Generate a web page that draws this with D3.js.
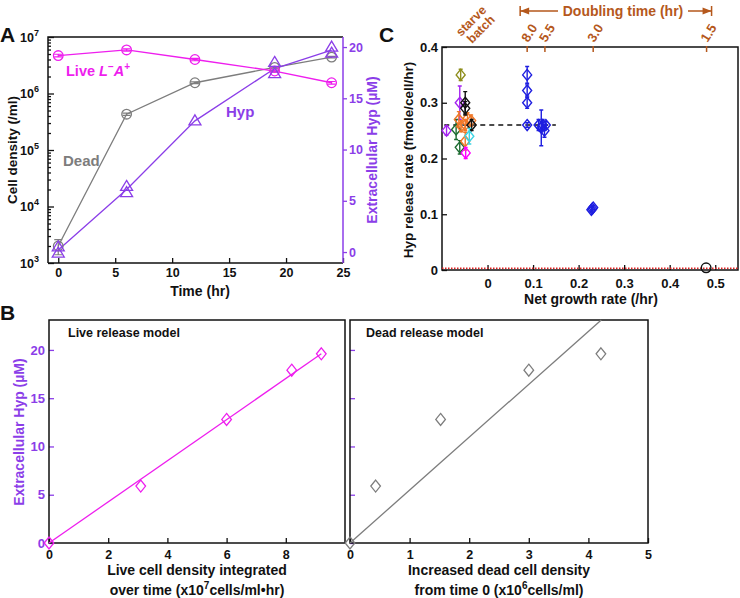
<!DOCTYPE html>
<html><head><meta charset="utf-8">
<script src="https://cdn.jsdelivr.net/npm/d3@7"></script>
<style>
body{margin:0;background:#fff}
svg{font-family:"Liberation Sans",Arial,Helvetica,sans-serif;font-weight:bold}
</style>
</head><body>
<svg id="chart" width="740" height="598"></svg>
<script>
// ---------------- DATA ----------------
// Panel A
const timeHr = [0, 6, 12, 19, 24];
const timeTicks = [0, 5, 10, 15, 20, 25];
const liveDensity = [4.7e6, 5.9e6, 4.0e6, 2.5e6, 1.55e6];
const liveErr = [0.25e6, 0.3e6, 0.2e6, 0.12e6, 0.08e6];
const deadDensity = [2.0e3, 4.3e5, 1.55e6, 2.9e6, 4.4e6];
const deadErr = [0.6e3, 0.2e5, 0.06e6, 0.1e6, 0.15e6];
const hypMean = [0.2, 6.1, 12.8, 17.9, 19.7];
const hypRepTime = [0, 0, 6, 6, 12, 19, 19, 24, 24];
const hypRepValue = [0.5, -0.1, 6.4, 5.8, 12.8, 18.5, 17.4, 20.0, 19.4];
const cellTicks = [1e3, 1e4, 1e5, 1e6, 1e7];
const hypTicks = [0, 5, 10, 15, 20];

// Panel B
const liveIntegrated = [0, 3.1, 6.0, 8.2, 9.2];
const deadIncrease = [0, 0.43, 1.52, 3.0, 4.21];
const hypB = [0, 5.9, 12.8, 17.9, 19.6];
const liveFitSlope = 2.13, liveFitEnd = 9.2;
const deadFitSlope = 5.48;
const liveTicks = [0, 2, 4, 6, 8];
const deadTicks = [0, 1, 2, 3, 4, 5];

// Panel C
const cGroup   = ["blue","blue","blue","blue","blue","blue","blue","blue","blue","blue","blue","blue",
                  "violet","green","olive","violet","green","orange","orange","orange","orange","orange","orange",
                  "black","black","black","cyan","magenta"];
const cGrowth  = [0.087,0.087,0.087,0.087,0.112,0.121,0.125,0.118,0.128,0.230,0.232,0.228,
                  -0.090,-0.069,-0.059,-0.061,-0.061,-0.063,-0.044,-0.036,-0.049,-0.049,-0.058,
                  -0.049,-0.049,-0.035,-0.040,-0.048];
const cRelease = [0.350,0.322,0.300,0.260,0.260,0.260,0.250,0.255,0.260,0.110,0.112,0.108,
                  0.250,0.252,0.350,0.300,0.220,0.270,0.272,0.268,0.260,0.231,0.258,
                  0.300,0.290,0.260,0.240,0.210];
const cError   = [0.015,0.010,0.010,0.004,0.010,0.010,0.012,0.032,0.006,0.004,0.004,0.004,
                  0.008,0.018,0.010,0.030,0.012,0.014,0.010,0.010,0.010,0.016,0.010,
                  0.020,0.012,0.010,0.014,0.010];
const meanRelease = 0.26, meanRange = [-0.095, 0.15];
const zeroGrowth = 0.48, zeroRelease = 0.004;
const growthTicks = [0, 0.1, 0.2, 0.3, 0.4, 0.5];
const releaseTicks = [0, 0.1, 0.2, 0.3, 0.4];
const doublingLabels = ["8.0", "5.5", "3.0", "1.5"];
const doublingGrowth = [0.087, 0.126, 0.232, 0.481];

// ---------------- STYLE ----------------
const MAG = "#ee1eee", PUR = "#8b3ee8", GRAY = "#7d7d7d", BROWN = "#b5581c";
const groupColor = {blue:"#1f1fe0", violet:"#a424f0", green:"#1c6b30", olive:"#8e8e1c",
  orange:"#f07828", black:"#111", cyan:"#3cd4e4", magenta:"#ff00ff"};

const svg = d3.select("#chart");

function styleAxis(g, tickColor, textColor, fs) {
  g.attr("font-family", null).attr("font-size", null);
  g.select(".domain").remove();
  g.selectAll(".tick line").attr("stroke", tickColor).attr("stroke-width", 1.3);
  g.selectAll(".tick text").attr("fill", textColor).attr("font-size", fs).attr("font-weight", "bold");
}
function label(g, x, y, str, opts = {}) {
  const t = g.append("text").attr("x", x).attr("y", y).text(str)
    .attr("font-size", opts.fs || 14).attr("fill", opts.fill || "#111")
    .attr("text-anchor", opts.anchor || "start");
  if (opts.rotate) t.attr("transform", `rotate(${opts.rotate},${x},${y})`);
  return t;
}

// ================= PANEL A =================
const A = {l:48, r:343, t:37, b:263};
const xA = d3.scaleLinear().domain([-0.9, 25]).range([A.l, A.r]);
const yA = d3.scaleLog().domain([1e3, 1e7]).range([A.b, A.t]);
const yH = d3.scaleLinear().domain([-1.07, 20.98]).range([A.b, A.t]);
const gA = svg.append("g");

gA.append("g").attr("transform", `translate(0,${A.b})`)
  .call(d3.axisBottom(xA).tickValues(timeTicks).tickSizeInner(-5).tickSizeOuter(0).tickPadding(5))
  .call(g => styleAxis(g, "#111", "#111", 12.5));

const minor = [];
for (let e = 3; e < 7; e++) for (let k = 2; k <= 9; k++) minor.push(k * Math.pow(10, e));
gA.append("g").attr("transform", `translate(${A.l},0)`)
  .call(d3.axisLeft(yA).tickValues(minor).tickSizeInner(-3).tickSizeOuter(0).tickFormat(""))
  .call(g => styleAxis(g, "#111", "#111", 12));
const gyA = gA.append("g").attr("transform", `translate(${A.l},0)`)
  .call(d3.axisLeft(yA).tickValues(cellTicks).tickSizeInner(-6).tickSizeOuter(0).tickPadding(9).tickFormat(""))
  .call(g => styleAxis(g, "#111", "#111", 12.5));
gyA.selectAll(".tick text").each(function(d) {
  const t = d3.select(this);
  t.append("tspan").text("10");
  t.append("tspan").attr("dy", -6).attr("font-size", 9).text(Math.round(Math.log10(d)));
});
gA.append("g").attr("transform", `translate(${A.r},0)`)
  .call(d3.axisRight(yH).tickValues(hypTicks).tickSizeInner(4).tickSizeOuter(0).tickPadding(2))
  .call(g => styleAxis(g, PUR, PUR, 12.5));

gA.append("path").attr("d", `M${A.l},${A.b}V${A.t}H${A.r}M${A.l},${A.b}H${A.r}`)
  .attr("fill", "none").attr("stroke", "#111").attr("stroke-width", 1.5);
gA.append("line").attr("x1", A.r).attr("x2", A.r).attr("y1", A.t).attr("y2", A.b)
  .attr("stroke", PUR).attr("stroke-width", 1.5);

const lineA = (ys, yScale) => d3.line().x((d, i) => xA(timeHr[i])).y(d => yScale(d))(ys);
gA.append("path").attr("d", lineA(deadDensity, yA)).attr("fill", "none").attr("stroke", GRAY).attr("stroke-width", 1.3);
gA.append("path").attr("d", lineA(liveDensity, yA)).attr("fill", "none").attr("stroke", MAG).attr("stroke-width", 1.3);
gA.append("path").attr("d", lineA(hypMean, yH)).attr("fill", "none").attr("stroke", PUR).attr("stroke-width", 1.3);

function circlesWithErr(vals, errs, color) {
  vals.forEach((v, i) => {
    const x = xA(timeHr[i]);
    const y0 = yA(v - errs[i]), y1 = yA(v + errs[i]);
    gA.append("path").attr("d", `M${x},${y0}V${y1}M${x-4},${y0}H${x+4}M${x-4},${y1}H${x+4}`)
      .attr("stroke", color).attr("stroke-width", 1.2).attr("fill", "none");
    gA.append("circle").attr("cx", x).attr("cy", yA(v)).attr("r", 4.8)
      .attr("fill", "none").attr("stroke", color).attr("stroke-width", 1.3);
  });
}
circlesWithErr(deadDensity, deadErr, GRAY);
circlesWithErr(liveDensity, liveErr, MAG);
hypRepTime.forEach((t, i) => {
  const x = xA(t), y = yH(hypRepValue[i]);
  gA.append("path").attr("d", `M${x},${y-6}L${x+6},${y+4}L${x-6},${y+4}Z`)
    .attr("fill", "none").attr("stroke", PUR).attr("stroke-width", 1.3);
});

const lt = gA.append("text").attr("x", 66).attr("y", 76).attr("fill", MAG).attr("font-size", 14.5);
lt.append("tspan").text("Live ");
lt.append("tspan").attr("font-style", "italic").text("L");
lt.append("tspan").attr("dy", -6).attr("font-size", 10).text("−");
lt.append("tspan").attr("dy", 6).attr("font-style", "italic").text("A");
lt.append("tspan").attr("dy", -6).attr("font-size", 10).text("+");
label(gA, 63, 166, "Dead", {fill: GRAY, fs: 15});
label(gA, 226, 117, "Hyp", {fill: PUR, fs: 15});
label(gA, 200, 296, "Time (hr)", {anchor: "middle", fs: 14});
label(gA, 17, 150, "Cell density (/ml)", {anchor: "middle", fs: 13.5, rotate: -90});
label(gA, 377, 150, "Extracellular Hyp (µM)", {anchor: "middle", fs: 14, rotate: -90, fill: PUR});
label(gA, 0, 42, "A", {fs: 21});

// ================= PANEL B =================
const yB = d3.scaleLinear().domain([0, 23.1]).range([543, 320]);
const B1 = {l:49, r:345, t:320, b:543};
const B2 = {l:350, r:648, t:320, b:543};
const xB1 = d3.scaleLinear().domain([0, 10]).range([B1.l, B1.r]);
const xB2 = d3.scaleLinear().domain([0, 5]).range([B2.l, B2.r]);
const gB = svg.append("g");

function panelB(box, xs, ticks, xVals, color, slope, fitEnd, showY) {
  gB.append("g").attr("transform", `translate(0,${box.b})`)
    .call(d3.axisBottom(xs).tickValues(ticks).tickSizeInner(-5).tickSizeOuter(0).tickPadding(7)
      .tickFormat(d3.format("d")))
    .call(g => styleAxis(g, "#111", "#111", 12.5));
  const ay = d3.axisLeft(yB).tickValues(hypTicks).tickSizeInner(-5).tickSizeOuter(0).tickPadding(4);
  if (!showY) ay.tickFormat("");
  gB.append("g").attr("transform", `translate(${box.l},0)`).call(ay)
    .call(g => styleAxis(g, PUR, PUR, 13));
  gB.append("rect").attr("x", box.l).attr("y", box.t).attr("width", box.r - box.l).attr("height", box.b - box.t)
    .attr("fill", "none").attr("stroke", "#111").attr("stroke-width", 1.5);
  gB.append("line").attr("x1", xs(0)).attr("y1", yB(0)).attr("x2", xs(fitEnd)).attr("y2", yB(slope * fitEnd))
    .attr("stroke", color).attr("stroke-width", 1.3);
  xVals.forEach((v, i) => {
    const x = xs(v), y = yB(hypB[i]);
    gB.append("path").attr("d", `M${x},${y-6}L${x+4.8},${y}L${x},${y+6}L${x-4.8},${y}Z`)
      .attr("fill", "none").attr("stroke", color).attr("stroke-width", 1.3);
  });
}
panelB(B1, xB1, liveTicks, liveIntegrated, MAG, liveFitSlope, liveFitEnd, true);
panelB(B2, xB2, deadTicks, deadIncrease, GRAY, deadFitSlope, 23.1 / deadFitSlope, false);

label(gB, 68, 337, "Live release model", {fs: 12.5});
label(gB, 366, 337, "Dead release model", {fs: 12.5});
label(gB, 197, 575, "Live cell density integrated", {anchor: "middle", fs: 14});
const bl = label(gB, 197, 595, "", {anchor: "middle", fs: 14});
bl.append("tspan").text("over time (x10");
bl.append("tspan").attr("dy", -6).attr("font-size", 10).text("7");
bl.append("tspan").attr("dy", 6).text("cells/ml•hr)");
label(gB, 499, 575, "Increased dead cell density", {anchor: "middle", fs: 14});
const br = label(gB, 499, 595, "", {anchor: "middle", fs: 14});
br.append("tspan").text("from time 0 (x10");
br.append("tspan").attr("dy", -6).attr("font-size", 10).text("6");
br.append("tspan").attr("dy", 6).text("cells/ml)");
label(gB, 24, 432, "Extracellular Hyp (µM)", {anchor: "middle", fs: 14, rotate: -90, fill: PUR});
label(gB, 0, 320, "B", {fs: 21});

// ================= PANEL C =================
const C = {l:442, r:738, t:47, b:270};
const xC = d3.scaleLinear().domain([-0.1, 0.55]).range([C.l, C.r]);
const yC = d3.scaleLinear().domain([0, 0.4]).range([C.b, C.t]);
const gC = svg.append("g");

gC.append("g").attr("transform", `translate(0,${C.b})`)
  .call(d3.axisBottom(xC).tickValues(growthTicks).tickSizeInner(-5).tickSizeOuter(0).tickPadding(9)
    .tickFormat(d => d === 0 ? "0" : d3.format(".1f")(d)))
  .call(g => styleAxis(g, "#111", "#111", 13));
gC.append("g").attr("transform", `translate(${C.l},0)`)
  .call(d3.axisLeft(yC).tickValues(releaseTicks).tickSizeInner(-5).tickSizeOuter(0).tickPadding(4)
    .tickFormat(d => d === 0 ? "0" : d3.format(".1f")(d)))
  .call(g => styleAxis(g, "#111", "#111", 13));
gC.append("rect").attr("x", C.l).attr("y", C.t).attr("width", C.r - C.l).attr("height", C.b - C.t)
  .attr("fill", "none").attr("stroke", "#111").attr("stroke-width", 1.5);

// top doubling-time axis
doublingGrowth.forEach((g, i) => {
  const x = xC(g);
  gC.append("line").attr("x1", x).attr("x2", x).attr("y1", C.t - 1).attr("y2", C.t + 5)
    .attr("stroke", BROWN).attr("stroke-width", 1.5);
  gC.append("text").attr("x", x + 1).attr("y", 43).attr("fill", BROWN).attr("font-size", 13)
    .attr("transform", `rotate(-58,${x + 1},43)`).text(doublingLabels[i]);
});
gC.append("text").attr("x", 461).attr("y", 37).attr("fill", BROWN).attr("font-size", 12.5)
  .attr("transform", "rotate(-45,461,37)").text("starve");
gC.append("text").attr("x", 472).attr("y", 44).attr("fill", BROWN).attr("font-size", 12.5)
  .attr("transform", "rotate(-45,472,44)").text("batch");
const bx0 = xC(doublingGrowth[0]) - 7, bx1 = xC(doublingGrowth[3]) + 5, by = 11;
gC.append("text").attr("x", 623).attr("y", 16).attr("text-anchor", "middle").attr("fill", BROWN)
  .attr("font-size", 14).text("Doubling time (hr)");
gC.append("path").attr("d", `M${bx0},${by-5}V${by+5}M${bx0},${by}H558M688,${by}H${bx1}M${bx1},${by-5}V${by+5}`)
  .attr("stroke", BROWN).attr("stroke-width", 1.5).attr("fill", "none");
gC.append("path").attr("d", `M${bx0},${by}l9,-3.5v7Z M${bx1},${by}l-9,-3.5v7Z`).attr("fill", BROWN);

// reference lines
gC.append("line").attr("x1", C.l).attr("x2", C.r).attr("y1", yC(0.003)).attr("y2", yC(0.003))
  .attr("stroke", "#e02020").attr("stroke-width", 1.5).attr("stroke-dasharray", "1.5,1.5");
gC.append("line").attr("x1", xC(meanRange[0])).attr("x2", xC(meanRange[1]))
  .attr("y1", yC(meanRelease)).attr("y2", yC(meanRelease))
  .attr("stroke", "#111").attr("stroke-width", 1.6).attr("stroke-dasharray", "5,4");

cGrowth.forEach((g, i) => {
  const x = xC(g), y = yC(cRelease[i]), col = groupColor[cGroup[i]];
  const y0 = yC(cRelease[i] - cError[i]), y1 = yC(cRelease[i] + cError[i]);
  gC.append("path").attr("d", `M${x},${y0}V${y1}M${x-2},${y0}H${x+2}M${x-2},${y1}H${x+2}`)
    .attr("stroke", col).attr("stroke-width", 1.4).attr("fill", "none");
  gC.append("path").attr("d", `M${x},${y-5.5}L${x+4.5},${y}L${x},${y+5.5}L${x-4.5},${y}Z`)
    .attr("fill", "none").attr("stroke", col).attr("stroke-width", 1.4);
});
gC.append("circle").attr("cx", xC(zeroGrowth)).attr("cy", yC(zeroRelease)).attr("r", 4.8)
  .attr("fill", "none").attr("stroke", "#111").attr("stroke-width", 1.4);

label(gC, 591, 304, "Net growth rate (/hr)", {anchor: "middle", fs: 14});
label(gC, 413, 160, "Hyp release rate (fmole/cell/hr)", {anchor: "middle", fs: 13.5, rotate: -90});
label(gC, 379, 42, "C", {fs: 21});
</script>
</body></html>
